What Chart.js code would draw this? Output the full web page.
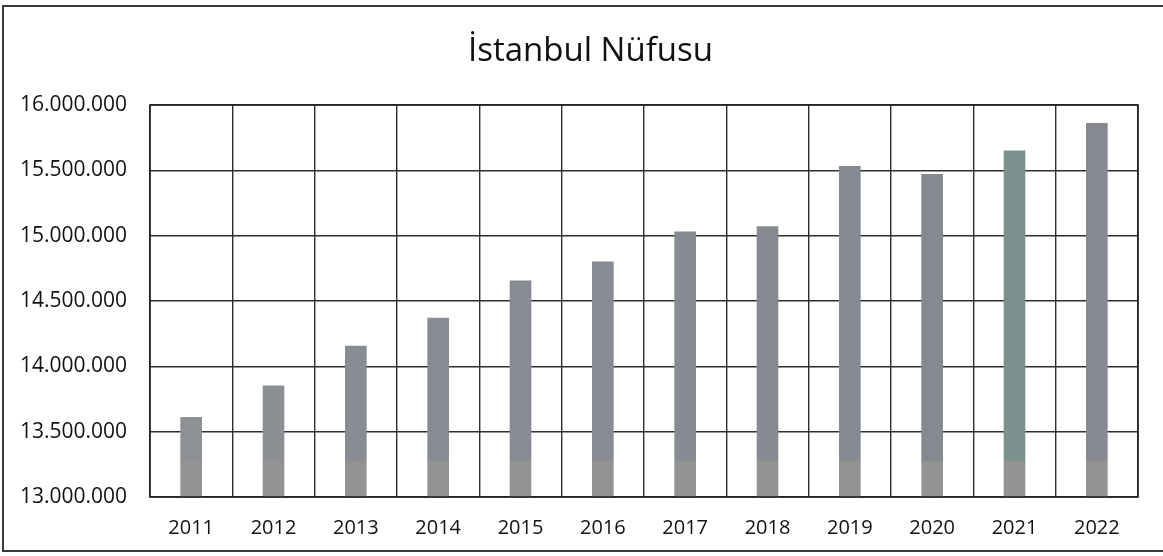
<!DOCTYPE html>
<html>
<head>
<meta charset="utf-8">
<title>İstanbul Nüfusu</title>
<script src="https://cdn.jsdelivr.net/npm/chart.js@4/dist/chart.umd.min.js"></script>
<style>
    html, body { margin: 0; padding: 0; background: #ffffff; }
    #wrap { width: 1163px; height: 556px; position: relative; }
</style>
</head>
<body>
<div id="wrap"><canvas id="populationChart" width="1163" height="556"></canvas></div>
<script>
"use strict";

// Population per year
var years = ["2011", "2012", "2013", "2014", "2015", "2016", "2017", "2018", "2019", "2020", "2021", "2022"];
var population = [13610000, 13850000, 14155000, 14370000, 14655000, 14800000, 15030000, 15070000, 15530000, 15470000, 15650000, 15860000];
var barColors = ["#8d9196", "#8c9095", "#898d93", "#878c92", "#878c92", "#888c92", "#868b92", "#868b92", "#858a91", "#858a91", "#7b918e", "#868a90"];
var baseColor = "#939393";
var chartTitle = "İstanbul Nüfusu";

var yMin = 13000000;
var yMax = 16000000;
var yStep = 500000;

// Frame edges (the right side runs past the canvas)
var frame = { left: 3, top: 6, right: 1170, bottom: 551 };

function formatThousands(v) {
    return String(v).replace(/\B(?=(\d{3})+(?!\d))/g, ".");
}

// Bars fade into a flat grey near the base
function barFill(context) {
    var chart = context.chart;
    var area = chart.chartArea;
    if (!area) {
        return barColors[context.dataIndex];
    }
    var g = chart.ctx.createLinearGradient(0, area.bottom, 0, area.top);
    var cut = 0.092;
    g.addColorStop(0, baseColor);
    g.addColorStop(cut, baseColor);
    g.addColorStop(cut + 0.001, barColors[context.dataIndex]);
    g.addColorStop(1, barColors[context.dataIndex]);
    return g;
}

// Outer frame, plot border and a title centred on the frame
var framePlugin = {
    id: "frame",
    afterDraw: function(chart) {
        var ctx = chart.ctx;
        ctx.save();
        ctx.strokeStyle = "#3a3a3a";
        ctx.lineWidth = 2;
        ctx.beginPath();
        ctx.moveTo(frame.right, frame.top);
        ctx.lineTo(frame.left, frame.top);
        ctx.lineTo(frame.left, frame.bottom);
        ctx.lineTo(frame.right, frame.bottom);
        ctx.stroke();

        var a = chart.chartArea;
        ctx.strokeStyle = "#222222";
        ctx.lineWidth = 1.6;
        ctx.strokeRect(a.left, a.top, a.right - a.left, a.bottom - a.top);

        ctx.fillStyle = "#111111";
        ctx.font = "33px 'Open Sans'";
        ctx.textAlign = "center";
        ctx.textBaseline = "middle";
        ctx.fillText(chartTitle, (frame.left + frame.right) / 2 + 4, 52);
        ctx.restore();
    }
};

var config = {
    type: "bar",
    data: {
        labels: years,
        datasets: [{
            data: population,
            backgroundColor: barFill,
            borderWidth: 0,
            barThickness: 21
        }]
    },
    options: {
        responsive: false,
        animation: false,
        layout: {
            padding: { left: 0, right: 25, top: 105, bottom: 0 }
        },
        plugins: {
            legend: { display: false },
            tooltip: { enabled: false },
            title: { display: false }
        },
        scales: {
            x: {
                offset: true,
                grid: {
                    display: true,
                    offset: true,
                    color: "#2e2e2e",
                    lineWidth: 1.4,
                    drawTicks: false
                },
                border: { display: false },
                ticks: {
                    color: "#111111",
                    padding: 19,
                    maxRotation: 0,
                    font: { family: "'Open Sans'", size: 20 }
                },
                afterFit: function(scale) {
                    scale.height = 59;
                }
            },
            y: {
                min: yMin,
                max: yMax,
                grid: {
                    color: "#2e2e2e",
                    lineWidth: 1.4,
                    drawTicks: false
                },
                border: { display: false },
                ticks: {
                    stepSize: yStep,
                    color: "#111111",
                    padding: 23,
                    font: { family: "'Open Sans'", size: 21 },
                    callback: function(value) {
                        return formatThousands(value);
                    }
                },
                afterFit: function(scale) {
                    scale.width = 150;
                }
            }
        }
    },
    plugins: [framePlugin]
};

var ctx = document.getElementById("populationChart").getContext("2d");
var chart = new Chart(ctx, config);
</script>
</body>
</html>
